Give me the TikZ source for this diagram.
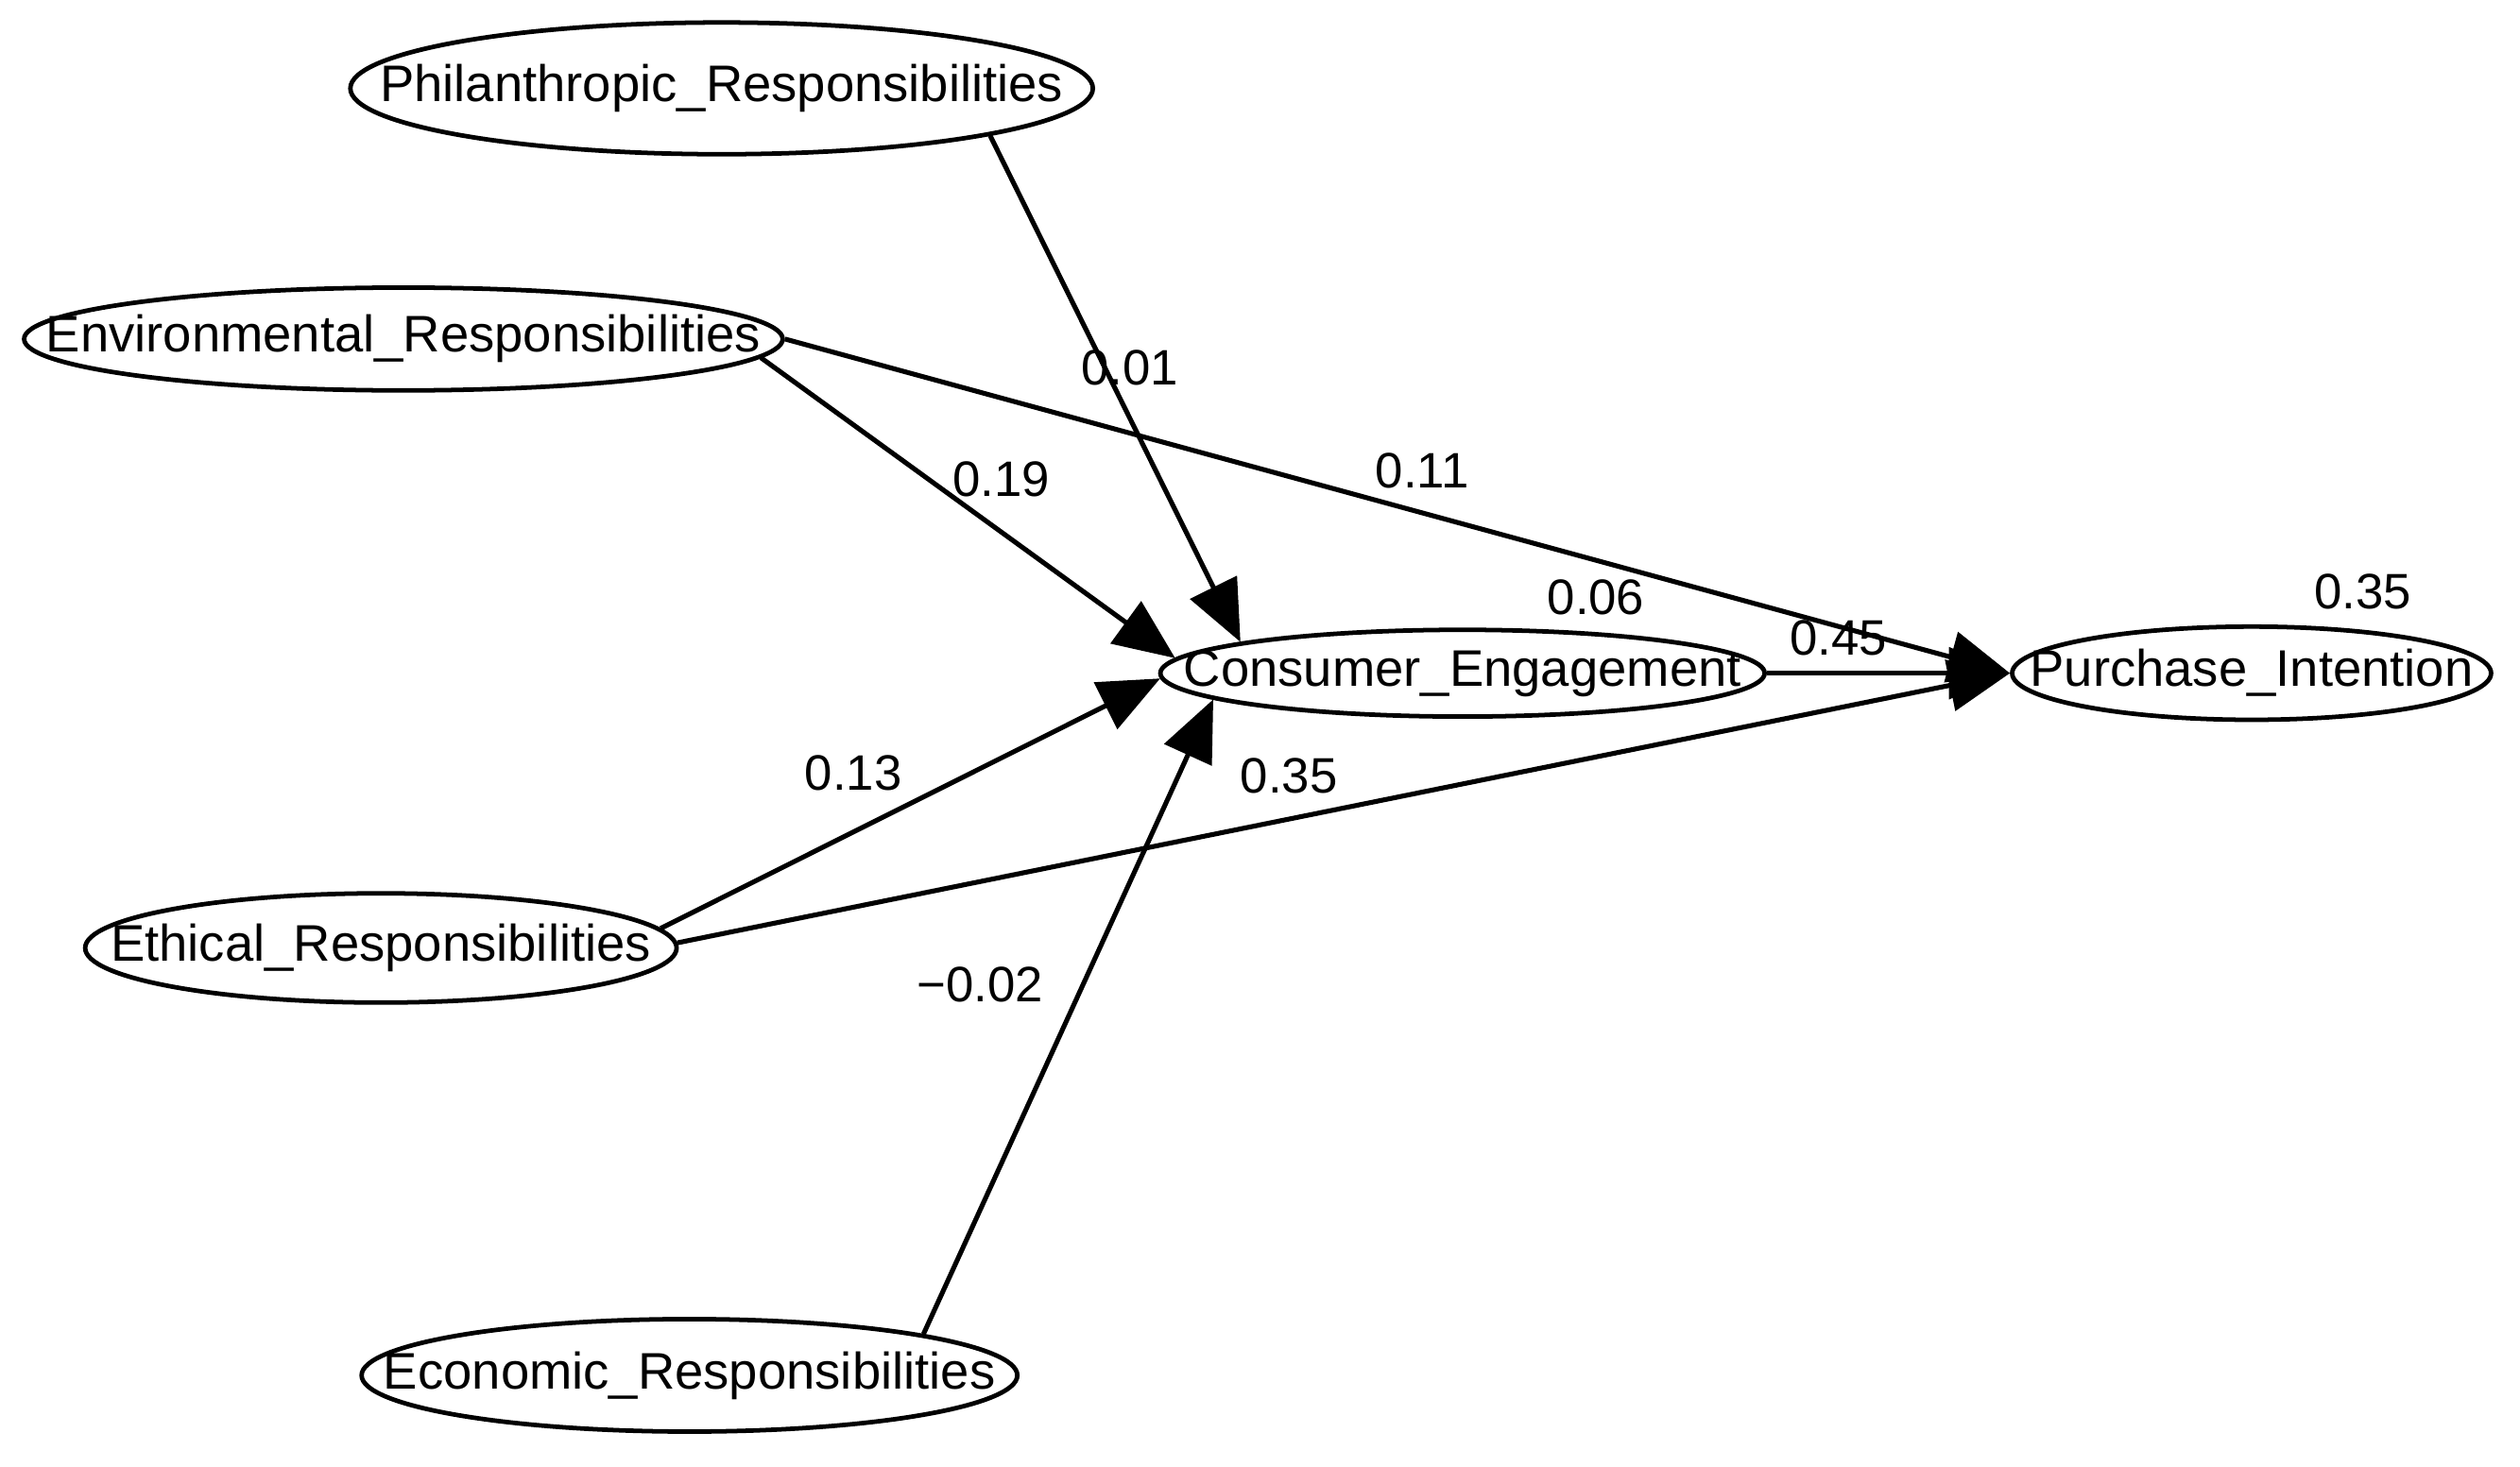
\documentclass[tikz,border=0pt]{standalone}
\usepackage{fontspec}
\setmainfont{Liberation Sans}
\usetikzlibrary{shapes.geometric,arrows.meta}
\begin{document}
\begin{tikzpicture}[x=0.5pt,y=-0.5pt,
  lv/.style={ellipse,draw,line width=1.4pt,inner xsep=-30pt,inner ysep=0pt,font=\fontsize{16}{18}\selectfont},
  ar/.style={line width=1.5pt,-{Triangle[length=19pt,width=16pt]}},
  lb/.style={font=\fontsize{15.5}{17}\selectfont}]
\useasboundingbox (0,0) rectangle (1568,913);
\node[lv,minimum width=231pt,minimum height=41pt] (ph) at (449,55) {Philanthropic\_Responsibilities};
\node[lv,minimum width=236pt,minimum height=32pt] (env) at (251,211) {Environmental\_Responsibilities};
\node[lv,minimum width=184pt,minimum height=34pt] (eth) at (237,590) {Ethical\_Responsibilities};
\node[lv,minimum width=204pt,minimum height=35pt] (eco) at (429,856) {Economic\_Responsibilities};
\node[lv,minimum width=188pt,minimum height=27pt] (ce) at (910,419) {Consumer\_Engagement};
\node[lv,minimum width=149pt,minimum height=29pt] (pi) at (1401,419) {Purchase\_Intention};
\draw[ar] (ph.-10) -- (ce.172);
\draw[ar] (env.-3) -- (ce.177);
\draw[ar] (env.0) -- (pi.west);
\draw[ar] (eth.4) -- (ce.181);
\draw[ar] (eth.1) -- (pi.west);
\draw[ar] (eco.10) -- (ce.186);
\draw[ar] (ce.east) -- (pi.west);
\node[lb] (l1) at (703,229) {0.01};
\node[lb] (l2) at (623,298) {0.19};
\node[lb] (l3) at (885,293) {0.11};
\node[lb] (l4) at (993,372) {0.06};
\node[lb] (l5) at (1144,397) {0.45};
\node[lb] (l6) at (1470,368) {0.35};
\node[lb] (l7) at (531,481) {0.13};
\node[lb] (l8) at (802,483) {0.35};
\node[lb] (l9) at (610,613) {−0.02};
\end{tikzpicture}
\end{document}
